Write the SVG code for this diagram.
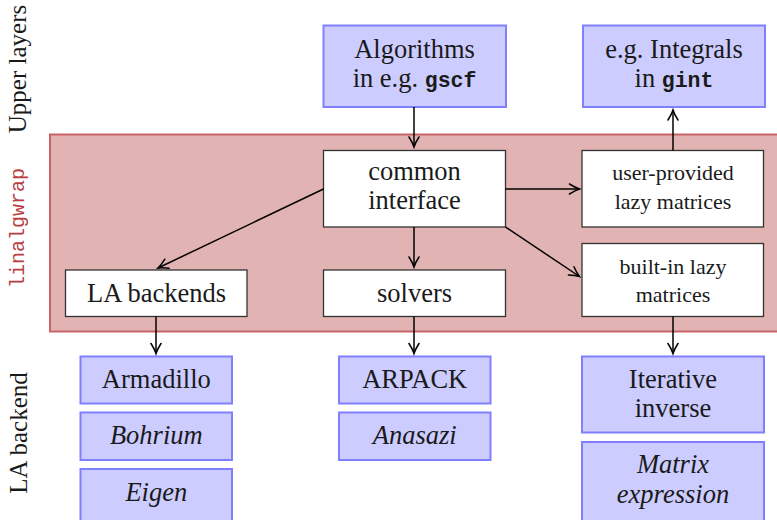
<svg xmlns="http://www.w3.org/2000/svg" width="777" height="520" viewBox="0 0 777 520">
<style>
text{font-family:"Liberation Serif","Times New Roman",serif;fill:#1a1a1a;text-anchor:middle}
.m{font-size:26.5px}
.s{font-size:22px}
.i{font-style:italic}
.tt{font-family:"Liberation Mono","Courier New",monospace;font-weight:bold;font-size:21.5px}
.blue{fill:#ccccff;stroke:#8080ff;stroke-width:2}
.wht{fill:#ffffff;stroke:#333333;stroke-width:1.3}
.side{font-size:25px}
.conn line{stroke:#000;stroke-width:1.5;fill:none}
</style>
<defs>
<marker id="ah" markerUnits="userSpaceOnUse" markerWidth="14" markerHeight="14" viewBox="-12 -7 14 14" refX="0" refY="0" orient="auto">
<path d="M-10,-5 Q-4,-1.2 0,0 Q-4,1.2 -10,5" fill="none" stroke="#000" stroke-width="1.5" stroke-linecap="round"/>
</marker>
</defs>

<g id="linalgwrap-layer">
<rect x="50" y="134.5" width="740" height="197" fill="#e2b3b3" stroke="#c86464" stroke-width="2"/>
</g>

<g id="labels">
<text class="side" transform="translate(26,69) rotate(-90)">Upper layers</text>
<text transform="translate(23.5,228) rotate(-90)" style="font-family:'Liberation Mono','Courier New',monospace;font-size:20px;fill:#b84040">linalgwrap</text>
<text class="side" transform="translate(26.5,433) rotate(-90)">LA backend</text>
</g>

<g id="algorithms">
<rect class="blue" x="323.5" y="25.5" width="182.5" height="81.5"/>
<text class="m" x="414.5" y="57.5">Algorithms</text>
<text class="m" x="414.5" y="87">in e.g. <tspan class="tt">gscf</tspan></text>
</g>

<g id="integrals">
<rect class="blue" x="583" y="25.5" width="182" height="81.5"/>
<text class="m" x="674" y="57.5">e.g. Integrals</text>
<text class="m" x="674" y="87">in <tspan class="tt">gint</tspan></text>
</g>

<g id="common-interface">
<rect class="wht" x="323.5" y="150.5" width="182" height="76.5"/>
<text class="m" x="414.5" y="180">common</text>
<text class="m" x="414.5" y="209">interface</text>
</g>

<g id="user-provided">
<rect class="wht" x="582" y="150.5" width="181.5" height="76.5"/>
<text class="s" x="673" y="179.5">user-provided</text>
<text class="s" x="673" y="208.5">lazy matrices</text>
</g>

<g id="built-in">
<rect class="wht" x="582" y="243.5" width="181.5" height="73"/>
<text class="s" x="673" y="273.5">built-in lazy</text>
<text class="s" x="673" y="301.5">matrices</text>
</g>

<g id="la-backends">
<rect class="wht" x="65.5" y="270" width="181.5" height="46.5"/>
<text class="m" x="156.5" y="302">LA backends</text>
</g>

<g id="solvers">
<rect class="wht" x="323.5" y="270" width="182" height="46.5"/>
<text class="m" x="414.5" y="302">solvers</text>
</g>

<g id="armadillo">
<rect class="blue" x="80.5" y="356.5" width="151.5" height="47"/>
<text class="m" x="156.3" y="388.3">Armadillo</text>
</g>
<g id="bohrium">
<rect class="blue" x="80.5" y="412.5" width="151.5" height="47.5"/>
<text class="m i" x="156.3" y="444.3">Bohrium</text>
</g>
<g id="eigen">
<rect class="blue" x="80.5" y="469" width="151.5" height="54"/>
<text class="m i" x="156.3" y="500.7">Eigen</text>
</g>

<g id="arpack">
<rect class="blue" x="339" y="356.5" width="151.5" height="47"/>
<text class="m" x="414.7" y="388.3">ARPACK</text>
</g>
<g id="anasazi">
<rect class="blue" x="339" y="412.5" width="151.5" height="47.5"/>
<text class="m i" x="414.7" y="444.3">Anasazi</text>
</g>

<g id="iterative-inverse">
<rect class="blue" x="582" y="356.5" width="182" height="76"/>
<text class="m" x="673" y="388.3">Iterative</text>
<text class="m" x="673" y="416.7">inverse</text>
</g>
<g id="matrix-expression">
<rect class="blue" x="582" y="442" width="182" height="90"/>
<text class="m i" x="673" y="473.3">Matrix</text>
<text class="m i" x="673" y="502.5">expression</text>
</g>

<g class="conn" id="connectors">
<line x1="414" y1="107" x2="414" y2="147" marker-end="url(#ah)"/>
<line x1="673" y1="150.5" x2="673" y2="110" marker-end="url(#ah)"/>
<line x1="505.5" y1="189" x2="579.5" y2="189" marker-end="url(#ah)"/>
<line x1="505.5" y1="227" x2="579.5" y2="276.5" marker-end="url(#ah)"/>
<line x1="323.5" y1="189" x2="158" y2="268" marker-end="url(#ah)"/>
<line x1="414" y1="227" x2="414" y2="267" marker-end="url(#ah)"/>
<line x1="156" y1="316.5" x2="156" y2="353.5" marker-end="url(#ah)"/>
<line x1="414" y1="316.5" x2="414" y2="353.5" marker-end="url(#ah)"/>
<line x1="673" y1="316.5" x2="673" y2="353.5" marker-end="url(#ah)"/>
</g>
</svg>
